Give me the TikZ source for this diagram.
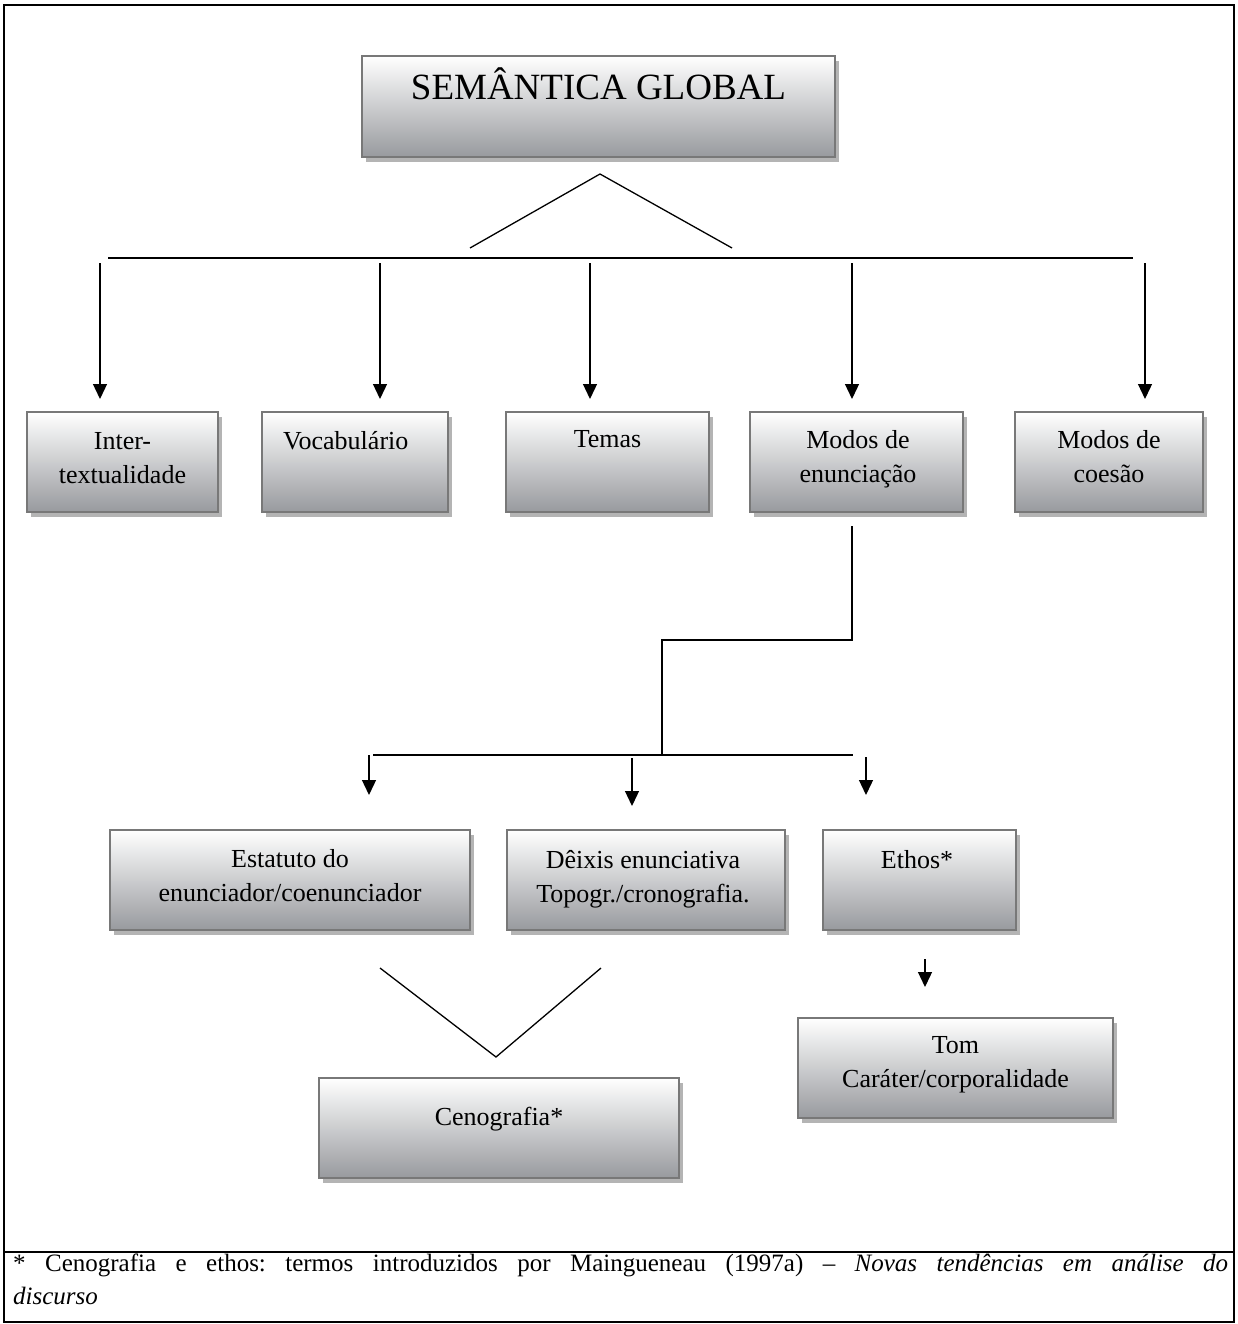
\documentclass[tikz,border=0pt]{standalone}
\usepackage{fontspec}
\setmainfont{Liberation Serif}
\usetikzlibrary{arrows.meta,shadows}
\definecolor{boxline}{RGB}{120,120,120}
\definecolor{boxbot}{RGB}{152,154,158}
\definecolor{shadowgray}{RGB}{180,180,180}
\tikzset{
  gbox/.style={draw=boxline, line width=1.4pt, top color=white, bottom color=boxbot,
    inner sep=0pt, outer sep=0pt,
    drop shadow={shadow xshift=4pt, shadow yshift=-5pt, fill=shadowgray, opacity=1}},
  lbl/.style={inner sep=0pt, font=\fontsize{26}{34.5}\selectfont},
  conn/.style={line width=1.3pt},
  arr/.style={line width=1.3pt, -{Triangle[width=14pt,length=15pt]}},
  framesty/.style={line width=2pt},
}
\newcommand\gboxnode[5]{%
  \node[gbox, minimum width={(#4)-(#2)}, minimum height={(#5)-(#3)}] (#1) at ({((#2)+(#4))/2},{((#3)+(#5))/2}) {};}
\begin{document}
\begin{tikzpicture}[x=1pt,y=-1pt]
\useasboundingbox (0,0) rectangle (1238,1324);
% frame
\draw[framesty] (4,5) rectangle (1234,1322);
\coordinate (fl) at (4,1252);
\coordinate (fr) at (1234,1252);
\draw[framesty] (fl) -- (fr);

% title
\gboxnode{title}{362}{56}{835}{157}
\node[inner sep=0pt, anchor=base, font=\fontsize{37}{44}\selectfont] (titletext) at (598.5,100) {SEMÂNTICA GLOBAL};

% triangle and bar
\coordinate (tp) at (600,174);
\coordinate (tl) at (470,248);
\coordinate (tr) at (732,248);
\draw[conn] (tl) -- (tp) -- (tr);
\coordinate (barl) at (108,258);
\coordinate (barr) at (1133,258);
\draw[line width=1.5pt] (barl) -- (barr);

% row 2 boxes
\gboxnode{inter}{27}{412}{218}{512}
\gboxnode{voc}{262}{412}{448}{512}
\gboxnode{tem}{506}{412}{709}{512}
\gboxnode{men}{750}{412}{963}{512}
\gboxnode{mco}{1015}{412}{1203}{512}

\node[lbl, anchor=base] (interT) at (122.5,449) {\begin{tabular}[t]{@{}c@{}}Inter-\\ textualidade\end{tabular}};
\node[lbl, anchor=base west] (vocT) at (283,449) {Vocabulário};
\node[lbl, anchor=base] (temT) at (607.5,447) {Temas};
\node[lbl, anchor=base] (menT) at (858,448) {\begin{tabular}[t]{@{}c@{}}Modos de\\ enunciação\end{tabular}};
\node[lbl, anchor=base] (mcoT) at (1109,448) {\begin{tabular}[t]{@{}c@{}}Modos de\\ coesão\end{tabular}};

% row 1 arrows
\foreach \n/\x in {a/100, b/380, c/590, d/852, e/1145}{
  \coordinate (s\n) at (\x,263);
}
\draw[arr] (sa) -- ([yshift=13pt]inter.north -| sa);
\draw[arr] (sb) -- ([yshift=13pt]voc.north -| sb);
\draw[arr] (sc) -- ([yshift=13pt]tem.north -| sc);
\draw[arr] (sd) -- ([yshift=13pt]men.north -| sd);
\draw[arr] (se) -- ([yshift=13pt]mco.north -| se);

% middle connector
\coordinate (m1) at (852,526);
\coordinate (m2) at (852,640);
\coordinate (m3) at (662,640);
\coordinate (m4) at (662,755);
\draw[conn] (m1) -- (m2) -- (m3) -- (m4);
\coordinate (bar2l) at (373,755);
\coordinate (bar2r) at (853,755);
\draw[conn] (bar2l) -- (bar2r);

% row 3 boxes
\gboxnode{est}{110}{830}{470}{930}
\gboxnode{dei}{507}{830}{785}{930}
\gboxnode{eth}{823}{830}{1016}{930}
\node[lbl, anchor=base] (estT) at (290,867) {\begin{tabular}[t]{@{}c@{}}Estatuto do\\ enunciador/coenunciador\end{tabular}};
\node[lbl, anchor=base] (deiT) at (643,868) {\begin{tabular}[t]{@{}c@{}}Dêixis enunciativa\\ Topogr./cronografia.\end{tabular}};
\node[lbl, anchor=base] (ethT) at (917,868) {Ethos*};

\coordinate (r3a) at (369,755);
\coordinate (r3b) at (632,758);
\coordinate (r3c) at (866,757);
\coordinate (r3ae) at (369,795);
\coordinate (r3be) at (632,806);
\coordinate (r3ce) at (866,795);
\draw[arr] (r3a) -- (r3ae);
\draw[arr] (r3b) -- (r3be);
\draw[arr] (r3c) -- (r3ce);

% V shape
\coordinate (vl) at (380,968);
\coordinate (vb) at (496,1057);
\coordinate (vr) at (601,968);
\draw[conn] (vl) -- (vb) -- (vr);

% bottom boxes
\gboxnode{ceno}{319}{1078}{679}{1178}
\node[lbl, anchor=base] (cenoT) at (499,1125) {Cenografia*};
\gboxnode{tom}{798}{1018}{1113}{1118}
\node[lbl, anchor=base] (tomT) at (955.5,1053) {\begin{tabular}[t]{@{}c@{}}Tom\\ Caráter/corporalidade\end{tabular}};
\coordinate (ea) at (925,959);
\coordinate (eb) at (925,987);
\draw[arr] (ea) -- (eb);

% footer
\node[anchor=base west, inner sep=0pt, text width=1215pt, align=justify,
  font=\fontsize{25}{33}\selectfont\frenchspacing] (foot) at (13,1271)
  {* Cenografia e ethos: termos introduzidos por Maingueneau (1997a) – \textit{Novas tendências em análise do}\linebreak \textit{discurso}};
\end{tikzpicture}
\end{document}
